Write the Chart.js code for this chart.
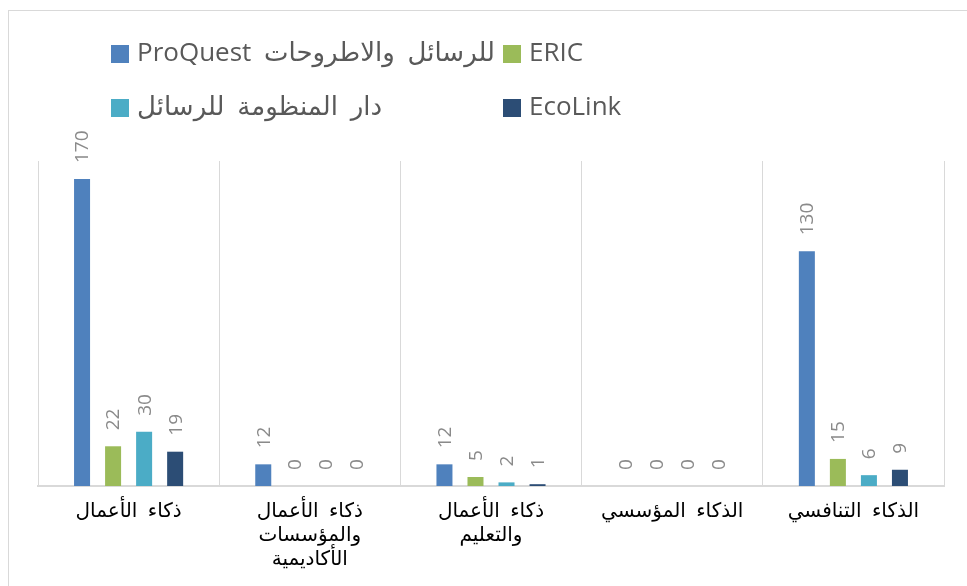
<!DOCTYPE html>
<html lang="ar">
<head>
<meta charset="utf-8">
<script src="https://cdn.jsdelivr.net/npm/chart.js@4.4.1/dist/chart.umd.min.js"></script>
<style>
  html, body { margin: 0; padding: 0; background: #fff; overflow: hidden; }
  #marco {
    position: absolute; left: 8px; top: 10px;
    width: 1200px; height: 800px;
    border: 1px solid #d9d9d9;
  }
  #grafico { position: absolute; left: 0; top: 0; }
</style>
</head>
<body>
<div id="marco"></div>
<canvas id="grafico" width="967" height="586"></canvas>
<script>
const categorias = [
  ['ذكاء الأعمال'],
  ['ذكاء الأعمال', 'والمؤسسات', 'الأكاديمية'],
  ['ذكاء الأعمال', 'والتعليم'],
  ['الذكاء المؤسسي'],
  ['الذكاء التنافسي']
];

const nombresSeries = ['ProQuest للرسائل والاطروحات', 'ERIC', 'دار المنظومة للرسائل', 'EcoLink'];
const proquest = [170, 12, 12, 0, 130];
const eric = [22, 0, 5, 0, 15];
const manzumah = [30, 0, 2, 0, 6];
const ecolink = [19, 0, 1, 0, 9];

const colores = ['#4f81bd', '#9bbb59', '#4bacc6', '#2c4d75'];

// leyenda en cuadricula de 2 x 2, como en el original
const leyendaCuadricula = {
  id: 'leyendaCuadricula',
  afterDraw(chart) {
    const ctx = chart.ctx;
    const columnas = [111, 503];
    const filas = [45, 99];
    ctx.save();
    ctx.font = '26px "Open Sans", "DejaVu Sans", sans-serif';
    ctx.textBaseline = 'middle';
    ctx.textAlign = 'left';
    ctx.wordSpacing = '6px';
    chart.data.datasets.forEach((ds, i) => {
      const x = columnas[i % 2];
      const y = filas[Math.floor(i / 2)];
      ctx.fillStyle = ds.backgroundColor;
      ctx.fillRect(x, y, 18, 18);
      ctx.fillStyle = '#595959';
      ctx.fillText(ds.label, x + 26, y + 9);
    });
    ctx.restore();
  }
};

// texto del eje x mas espaciado
const espaciadoEje = {
  id: 'espaciadoEje',
  beforeDraw(chart) { chart.ctx.letterSpacing = '4px'; },
  beforeDatasetsDraw(chart) { chart.ctx.letterSpacing = '0px'; }
};

// etiquetas verticales encima de cada barra
const etiquetasBarras = {
  id: 'etiquetasBarras',
  afterDatasetsDraw(chart) {
    const ctx = chart.ctx;
    ctx.save();
    ctx.font = '19px "Open Sans", sans-serif';
    ctx.fillStyle = '#8a8a8a';
    ctx.textAlign = 'left';
    ctx.textBaseline = 'middle';
    chart.data.datasets.forEach((ds, i) => {
      chart.getDatasetMeta(i).data.forEach((barra, j) => {
        ctx.save();
        ctx.translate(barra.x + 1, barra.y - 16);
        ctx.rotate(-Math.PI / 2);
        ctx.fillText(String(ds.data[j]), 0, 0);
        ctx.restore();
      });
    });
    ctx.restore();
  }
};

const valores = [proquest, eric, manzumah, ecolink];

new Chart(document.getElementById('grafico'), {
  type: 'bar',
  data: {
    labels: categorias,
    datasets: nombresSeries.map((nombre, i) => ({
      label: nombre,
      data: valores[i],
      backgroundColor: colores[i],
      categoryPercentage: 0.685,
      barPercentage: 0.516
    }))
  },
  options: {
    responsive: false,
    animation: false,
    devicePixelRatio: 1,
    layout: { padding: { top: 161, left: 38, right: 23, bottom: 0 } },
    plugins: {
      legend: { display: false },
      tooltip: { enabled: false }
    },
    scales: {
      x: {
        grid: { color: '#d9d9d9', lineWidth: 1, drawTicks: false },
        border: { color: '#d9d9d9', width: 2 },
        ticks: {
          color: '#000',
          padding: 14,
          maxRotation: 0,
          autoSkip: false,
          font: { family: '"DejaVu Sans", sans-serif', size: 20, lineHeight: 1.2 }
        },
        afterFit(scale) { scale.height = 100; }
      },
      y: {
        display: false,
        min: 0,
        max: 180
      }
    }
  },
  plugins: [espaciadoEje, leyendaCuadricula, etiquetasBarras]
});
</script>
</body>
</html>
